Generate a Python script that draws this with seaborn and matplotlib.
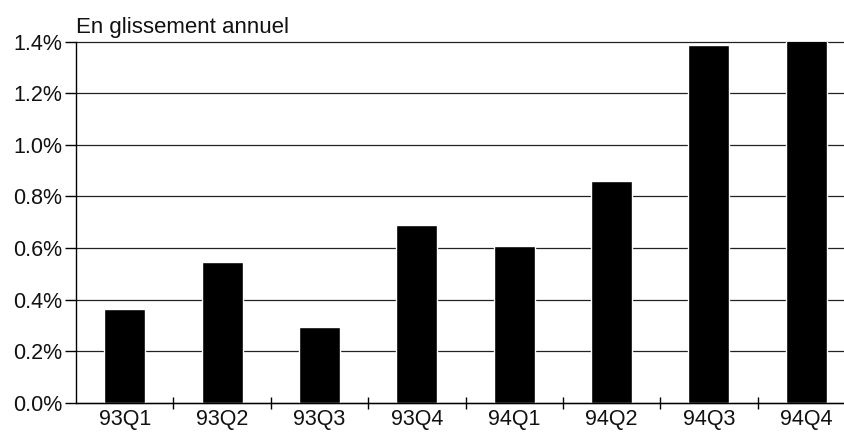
import matplotlib
matplotlib.use("Agg")
import matplotlib.pyplot as plt
import seaborn as sns
import pandas as pd
import numpy as np
from matplotlib.ticker import FuncFormatter, FixedLocator

categories = ["93Q1", "93Q2", "93Q3", "93Q4", "94Q1", "94Q2", "94Q3", "94Q4"]
values = [0.363, 0.546, 0.293, 0.691, 0.608, 0.858, 1.387, 1.404]
yticks = [0.0, 0.2, 0.4, 0.6, 0.8, 1.0, 1.2, 1.4]
title = "En glissement annuel"

sns.set_style("white")
plt.rcParams["font.family"] = ["Liberation Sans", "DejaVu Sans"]

df = pd.DataFrame({"q": categories, "v": values})

fig = plt.figure(figsize=(8.44, 4.34), dpi=100)
ax_bottom_px = 403
ax_top_px = 41.5
ax = fig.add_axes([76 / 844, 1 - ax_bottom_px / 434, (855 - 76) / 844, (ax_bottom_px - ax_top_px) / 434])

sns.barplot(data=df, x="q", y="v", color="black", saturation=1, width=0.42, ax=ax, zorder=3)

ax.set_xlim(-0.5, len(categories) - 0.5)
ax.set_ylim(0, 1.4)
ax.set_yticks(yticks)
ax.yaxis.set_major_formatter(FuncFormatter(lambda v, p: f"{v:.1f}%"))
ax.yaxis.grid(True, color="#222222", linewidth=0.9, zorder=0)
ax.xaxis.grid(False)
for gl in ax.yaxis.get_gridlines():
    gl.set_clip_on(False)

ax.set_xlabel("")
ax.set_ylabel("")
ax.tick_params(axis="x", which="major", length=0, pad=4, labelsize=15.5, labelcolor="#111111")
ax.xaxis.set_minor_locator(FixedLocator(np.arange(0.5, len(categories) - 0.5, 1)))
ax.tick_params(axis="x", which="minor", length=8, width=1, direction="inout", color="black", bottom=True)
ax.tick_params(axis="y", which="major", length=8, width=1, direction="out", color="black", pad=2,
               labelsize=15.5, labelcolor="#111111", left=True)

for s in ["top", "right"]:
    ax.spines[s].set_visible(False)
for s in ["left", "bottom"]:
    ax.spines[s].set_color("black")
    ax.spines[s].set_linewidth(1.0)
    ax.spines[s].set_zorder(4)

fig.text(76 / 844, 1 - 33 / 434, title, fontsize=16, color="#111111", ha="left", va="baseline")

fig.savefig("out.png", dpi=100)
